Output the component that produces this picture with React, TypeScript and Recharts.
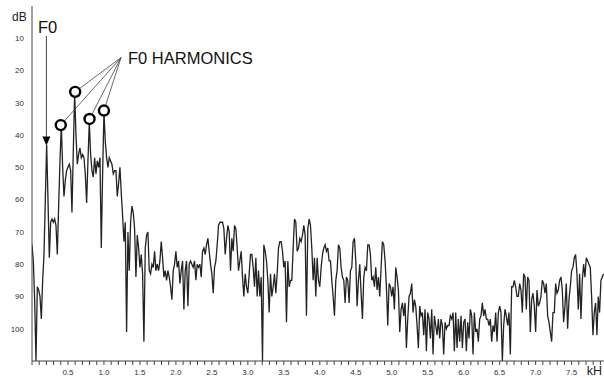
import React from "react";
import { LineChart, Line, XAxis, YAxis, ReferenceLine, ReferenceDot } from "recharts";

// Spectrum sampled every 1/54 kHz (≈18.5 Hz), level in dB (axis drawn downwards)
const STEP_KHZ = 1 / 54;

const levelDb0to13 = [
  74, 79, 91, 110, 87, 88, 90, 97, 85, 77, 60, 43, 60, 78, 67, 66, 67, 66, 68, 77,
  62, 48, 37, 50, 59, 54, 51, 50, 49, 51, 64, 45, 27, 40, 49, 46, 44, 47, 46, 47,
  52, 61, 48, 36, 46, 51, 53, 47, 52, 48, 50, 47, 75, 52, 33, 42, 47, 50, 47, 48,
  49, 52, 51, 51, 59, 55, 50, 58, 65, 73, 67,
];
const levelDb13to26 = [
  101, 70, 82, 67, 62, 64, 69, 84, 71, 75, 81, 77, 83, 104, 75, 71, 70, 82, 83, 80,
  81, 76, 82, 80, 82, 79, 73, 78, 84, 82, 85, 82, 84, 87, 91, 82, 80, 76, 81, 79,
  86, 82, 79, 94, 82, 79, 93, 80, 79, 80, 81, 79, 85, 80, 81, 80, 84, 76, 75, 77,
  74, 72, 76, 80, 83, 89, 81, 79, 74, 68, 67, 67,
];
const levelDb26to40 = [
  67, 69, 77, 72, 68, 70, 82, 72, 76, 68, 69, 75, 82, 79, 76, 84, 90, 83, 87, 89,
  83, 77, 77, 81, 87, 78, 90, 82, 90, 84, 110, 74, 76, 79, 85, 95, 83, 90, 87, 83,
  89, 83, 75, 73, 73, 76, 81, 79, 98, 79, 87, 85, 85, 75, 66, 67, 76, 75, 72, 73,
  71, 68, 71, 96, 69, 66, 68, 75, 85, 78, 90, 78,
];
const levelDb40to53 = [
  85, 87, 81, 77, 75, 74, 76, 75, 79, 79, 85, 90, 96, 85, 82, 74, 75, 81, 84, 85,
  92, 84, 85, 92, 82, 81, 73, 72, 79, 93, 85, 80, 89, 97, 84, 81, 82, 74, 74, 77,
  85, 84, 87, 81, 88, 84, 90, 81, 73, 74, 79, 87, 99, 86, 87, 90, 87, 94, 81, 84,
  88, 101, 94, 92, 96, 92, 106, 97, 90, 89, 86, 95,
];
const levelDb53to66 = [
  91, 93, 99, 106, 93, 96, 95, 102, 94, 107, 95, 97, 103, 94, 108, 96, 99, 102, 97, 103,
  97, 99, 108, 98, 100, 99, 99, 96, 97, 95, 107, 95, 106, 97, 104, 96, 106, 98, 97, 107,
  98, 103, 94, 96, 108, 95, 101, 100, 104, 97, 96, 92, 96, 94, 97, 97, 99, 97, 104, 99,
  101, 95, 104, 95, 93, 95, 110, 99, 94, 96, 99, 95,
];
const levelDb66to80 = [
  108, 87, 87, 85, 87, 90, 90, 86, 88, 95, 83, 84, 94, 84, 85, 101, 91, 89, 93, 101,
  88, 93, 92, 90, 85, 86, 89, 86, 96, 98, 101, 104, 95, 95, 86, 89, 88, 85, 84, 88,
  98, 93, 86, 100, 91, 87, 82, 81, 78, 77, 83, 94, 83, 97, 85, 80, 84, 78, 79, 80,
  81, 90, 102, 95, 92, 102, 90, 95, 85, 84, 83,
];

const levelDb = [
  ...levelDb0to13, ...levelDb13to26, ...levelDb26to40,
  ...levelDb40to53, ...levelDb53to66, ...levelDb66to80,
];
const data = levelDb.map((db, i) => ({ khz: i * STEP_KHZ, db }));

const yTicks = [10, 20, 30, 40, 50, 60, 70, 80, 90, 100];
const xMinorTicks = Array.from({ length: 80 }, (_, i) => i / 10);
const xTickLabels = ["0.5", "1.0", "1.5", "2.0", "2.5", "3.0", "3.5", "4.0", "4.5", "5.0", "5.5", "6.0", "6.5", "7.0", "7.5"];

const F0_KHZ = 0.2;
const F0_DB = 43.2;
const harmonicKHz = [0.4, 0.6, 0.8, 1.0];
const harmonicDb = [36.9, 26.6, 35, 32.4];
const labelHub = { x: 1.237, y: 16 };

const FONT = "'Liberation Sans', Arial, Helvetica, sans-serif";

const XTick = (props: any) => {
  const { x, y, payload } = props;
  const v = Math.round(payload.value * 10) / 10;
  const txt = v.toFixed(1);
  const show = xTickLabels.includes(txt);
  return (
    <g>
      <line x1={x} y1={y} x2={x} y2={y + 4} stroke="#444" strokeWidth={1} />
      {show && (
        <text x={x} y={y + 14} textAnchor="middle" fontSize={8} fill="#333" fontFamily={FONT}>
          {txt}
        </text>
      )}
    </g>
  );
};

const YTick = (props: any) => {
  const { y, payload } = props;
  return (
    <text x={24} y={y} dy="0.35em" textAnchor="end" fontSize={8} fill="#333" fontFamily={FONT}>
      {payload.value}
    </text>
  );
};

const ArrowHead = (props: any) => {
  const { cx, cy } = props;
  return <path d={`M${cx - 4},${cy - 9} L${cx + 4},${cy - 9} L${cx},${cy} Z`} fill="#000" />;
};

export default function App() {
  return (
    <div style={{ position: "absolute", left: 0, top: 0, width: 604, height: 378, background: "#fff" }}>
      <LineChart width={604} height={378} data={data} margin={{ top: 6, right: 0, left: 0, bottom: 0 }}>
        <XAxis
          type="number"
          dataKey="khz"
          domain={[0, 7.95]}
          ticks={xMinorTicks}
          interval={0}
          allowDataOverflow
          height={17}
          tickLine={false}
          tickSize={0}
          tickMargin={0}
          tick={<XTick />}
          axisLine={{ stroke: "#444", strokeWidth: 1 }}
        />
        <YAxis
          type="number"
          domain={[0, 110]}
          reversed
          allowDataOverflow
          ticks={yTicks}
          interval={0}
          width={32}
          tickLine={false}
          tickSize={0}
          tickMargin={0}
          tick={<YTick />}
          axisLine={{ stroke: "#444", strokeWidth: 1 }}
        />
        <Line
          type="linear"
          dataKey="db"
          stroke="#222"
          strokeWidth={1.3}
          dot={false}
          isAnimationActive={false}
        />
        <ReferenceLine
          segment={[{ x: F0_KHZ, y: 9.3 }, { x: F0_KHZ, y: 40.5 }]}
          stroke="#444"
          strokeWidth={1}
        />
        <ReferenceDot x={F0_KHZ} y={F0_DB} r={4} shape={<ArrowHead />} />
        {harmonicKHz.map((k, i) => (
          <ReferenceLine
            key={`hl${i}`}
            segment={[labelHub, { x: k, y: harmonicDb[i] }]}
            stroke="#444"
            strokeWidth={0.8}
          />
        ))}
        {harmonicKHz.map((k, i) => (
          <ReferenceDot
            key={`hd${i}`}
            x={k}
            y={harmonicDb[i]}
            r={5}
            fill="#fff"
            stroke="#000"
            strokeWidth={2.4}
          />
        ))}
      </LineChart>
      <svg
        width={604}
        height={378}
        style={{ position: "absolute", left: 0, top: 0, pointerEvents: "none" }}
      >
        <text x={12} y={21} fontSize={12} fill="#222" fontFamily={FONT}>dB</text>
        <text x={38} y={33} fontSize={16.5} fill="#111" fontFamily={FONT}>F0</text>
        <text x={128} y={63.5} fontSize={16.5} fill="#111" fontFamily={FONT}>F0 HARMONICS</text>
        <text x={602} y={374.5} fontSize={12.5} fill="#222" fontFamily={FONT} textAnchor="end">kH</text>
      </svg>
    </div>
  );
}
